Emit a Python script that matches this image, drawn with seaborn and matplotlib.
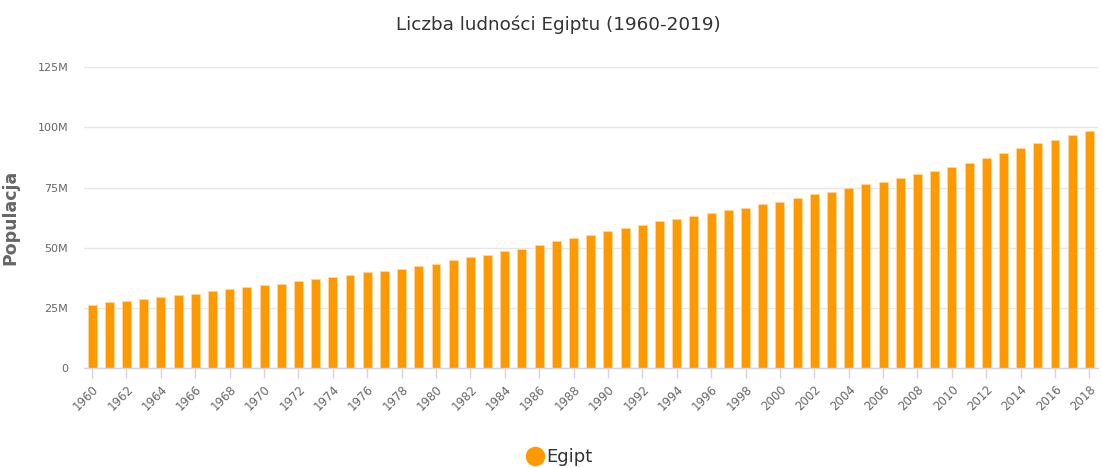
import numpy as np
import pandas as pd
import matplotlib
matplotlib.use("Agg")
import matplotlib.pyplot as plt
from matplotlib.lines import Line2D
from matplotlib.ticker import FuncFormatter
import seaborn as sns

years = list(range(1960, 2019))
population_m = [26.3, 27.4, 27.8, 28.9, 29.5, 30.5, 31.0, 32.0, 33.1, 33.6,
                34.6, 35.2, 36.3, 37.2, 37.8, 38.8, 39.9, 40.4, 41.4, 42.5,
                43.5, 45.0, 46.1, 47.1, 48.6, 49.6, 51.1, 52.7, 54.3, 55.4,
                56.9, 58.4, 59.5, 61.0, 62.0, 63.1, 64.5, 65.6, 66.6, 68.2,
                69.2, 70.7, 72.3, 73.3, 74.9, 76.4, 77.4, 79.0, 80.6, 82.1,
                83.6, 85.1, 87.3, 89.3, 91.4, 93.4, 95.0, 96.9, 98.6]
series_name = "Egipt"
title = "Liczba ludności Egiptu (1960-2019)"
y_label = "Populacja"
y_ticks_m = [0, 25, 50, 75, 100, 125]

df = pd.DataFrame({"year": [str(y) for y in years],
                   "pop": [v * 1e6 for v in population_m]})

sns.set_theme(style="white")
plt.rcParams['font.family'] = ['DejaVu Sans']

W, H = 1102, 468
fig = plt.figure(figsize=(W / 100, H / 100), dpi=100)
left, right, top, bottom = 83.5, 1098, 67.3, 368.3
ax = fig.add_axes([left / W, 1 - bottom / H, (right - left) / W, (bottom - top) / H])

BAR = "#FF9900"
sns.barplot(data=df, x="year", y="pop", color=BAR, saturation=1, width=0.52,
            edgecolor="#ffd9a0", linewidth=0.5, ax=ax, zorder=3)

ax.set_xlim(-0.5, len(years) - 0.5)
ax.set_ylim(0, 125e6)
ax.set_yticks([v * 1e6 for v in y_ticks_m])
ax.yaxis.set_major_formatter(FuncFormatter(lambda v, p: "0" if v == 0 else f"{int(round(v / 1e6))}M"))
ax.grid(axis="y", color="#e6e6e6", linewidth=1, zorder=0)
ax.set_axisbelow(True)
for s in ["top", "right", "left"]:
    ax.spines[s].set_visible(False)
ax.spines["bottom"].set_color("#ccd6eb")
ax.spines["bottom"].set_linewidth(1)
ax.spines["bottom"].set_zorder(4)

tick_pos = list(range(0, len(years), 2))
ax.set_xticks(tick_pos)
ax.set_xticklabels([str(years[i]) for i in tick_pos], rotation=45, ha="right",
                   rotation_mode="anchor", color="#666666", fontsize=8.5)
ax.tick_params(axis="x", length=7.5, width=1, color="#ccd6eb", pad=3, bottom=True)
ax.tick_params(axis="y", length=0, pad=11, labelsize=8, labelcolor="#666666")

ax.set_xlabel("")
ax.set_ylabel(y_label, color="#666666", fontsize=12.5, fontweight="bold")
ax.yaxis.set_label_coords((19 - left) / (right - left), 0.5)

fig.text(558 / W, 1 - 25 / H, title, ha="center", va="center", fontsize=13.2, color="#333333")

handle = Line2D([], [], marker="o", linestyle="", color=BAR, markersize=13)
fig.legend(handles=[handle], labels=[series_name], loc="center",
           bbox_to_anchor=(559 / W, 1 - 457 / H), frameon=False, fontsize=13,
           handletextpad=0.1, labelcolor="#333333", handlelength=1.0)

fig.savefig("out.png", dpi=100)
